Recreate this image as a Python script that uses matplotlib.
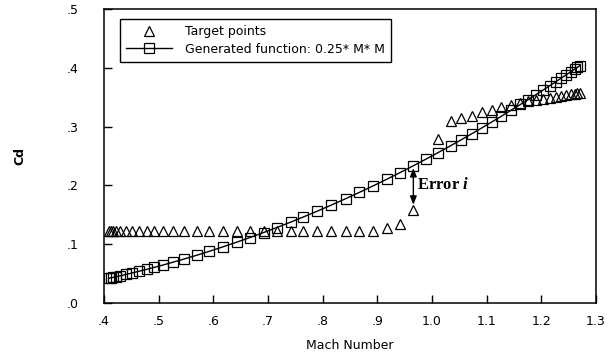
import matplotlib.pyplot as plt

# Mach numbers shared by both series
mach = [0.410, 0.413, 0.417, 0.422, 0.430, 0.440, 0.452, 0.465, 0.478, 0.492,
        0.508, 0.526, 0.547, 0.570, 0.593, 0.617, 0.643, 0.667, 0.692, 0.716,
        0.742, 0.765, 0.790, 0.816, 0.842, 0.867, 0.892, 0.917, 0.942, 0.966,
        0.990, 1.011, 1.034, 1.054, 1.073, 1.092, 1.109, 1.127, 1.145, 1.162,
        1.176, 1.190, 1.204, 1.216, 1.227, 1.237, 1.246, 1.254, 1.261, 1.266,
        1.270]

target_cd = [0.122, 0.122, 0.122, 0.122, 0.122, 0.122, 0.122, 0.122, 0.122, 0.122,
             0.122, 0.122, 0.122, 0.122, 0.122, 0.122, 0.122, 0.122, 0.122, 0.122,
             0.122, 0.122, 0.122, 0.122, 0.122, 0.122, 0.122, 0.128, 0.135, 0.158,
             float("nan"), 0.278, 0.310, 0.314, 0.318, 0.324, 0.328, 0.333, 0.337, 0.340,
             0.343, 0.345, 0.347, 0.348, 0.350, 0.352, 0.353, 0.355, 0.356, 0.357,
             0.357]

generated_cd = [0.042, 0.043, 0.0435, 0.0445, 0.0462, 0.0484, 0.0511, 0.0541, 0.0571, 0.0605,
                0.0645, 0.0692, 0.0748, 0.0812, 0.0879, 0.0952, 0.1034, 0.1112, 0.1197, 0.1282,
                0.1376, 0.1463, 0.1560, 0.1665, 0.1772, 0.1879, 0.1989, 0.2102, 0.2218, 0.2333,
                0.2450, 0.2555, 0.2673, 0.2777, 0.2878, 0.2981, 0.3075, 0.3175, 0.3278, 0.3376,
                0.3457, 0.3540, 0.3624, 0.3697, 0.3764, 0.3825, 0.3881, 0.3931, 0.3975, 0.4007,
                0.4032]

error_index = 29

xtick_values = [0.4, 0.5, 0.6, 0.7, 0.8, 0.9, 1.0, 1.1, 1.2, 1.3]
xtick_labels = [".4", ".5", ".6", ".7", ".8", ".9", "1.0", "1.1", "1.2", "1.3"]
ytick_values = [0.0, 0.1, 0.2, 0.3, 0.4, 0.5]
ytick_labels = [".0", ".1", ".2", ".3", ".4", ".5"]

plt.rcParams["font.family"] = "DejaVu Sans"
plt.rcParams["mathtext.fontset"] = "custom"
plt.rcParams["mathtext.it"] = "Liberation Serif:bold:italic"

fig = plt.figure(figsize=(6.15, 3.56), dpi=100)
ax = fig.add_axes([0.169, 0.149, 0.8, 0.826])

ax.plot(mach, target_cd, ls="none", marker="^", ms=7, mfc="none", mec="black",
        mew=0.9, label="Target points")
ax.plot(mach, generated_cd, color="black", lw=1, marker="s", ms=6.5, mfc="none",
        mec="black", mew=0.9, label="Generated function: 0.25* M* M")

# error arrow between target and generated value
x_err = mach[error_index]
ax.annotate("", xy=(x_err, generated_cd[error_index] - 0.004),
            xytext=(x_err, target_cd[error_index] + 0.009),
            arrowprops=dict(arrowstyle="<|-|>,head_length=0.5,head_width=0.2",
                            color="black", lw=1, shrinkA=0, shrinkB=0))
ax.text(x_err + 0.007, 0.2, "Error $i$", fontfamily="Liberation Serif",
        fontweight="bold", fontsize=12, va="center", ha="left")

leg = ax.legend(loc="upper left", bbox_to_anchor=(0.0325, 0.965), numpoints=1,
                handlelength=3.7, handletextpad=1.0, borderpad=0.5,
                labelspacing=0.35, borderaxespad=0, fancybox=False,
                framealpha=1, edgecolor="black", fontsize=9)
leg.get_frame().set_linewidth(1.0)

ax.set_xlim(0.4, 1.3)
ax.set_ylim(0, 0.5)
ax.set_xticks(xtick_values, xtick_labels)
ax.set_yticks(ytick_values, ytick_labels)
ax.tick_params(direction="in", length=5.5, width=1, top=False, right=False, labelsize=9)
ax.tick_params(axis="y", pad=18)
ax.tick_params(axis="x", pad=9)
for spine in ax.spines.values():
    spine.set_linewidth(1.1)

ax.set_xlabel("Mach Number", fontsize=9)
ax.xaxis.set_label_coords(0.5, -0.122)
ax.set_ylabel("Cd", fontsize=9, fontweight="bold")
ax.yaxis.set_label_coords(-0.157, 0.5)

fig.savefig("out.png", dpi=100)
